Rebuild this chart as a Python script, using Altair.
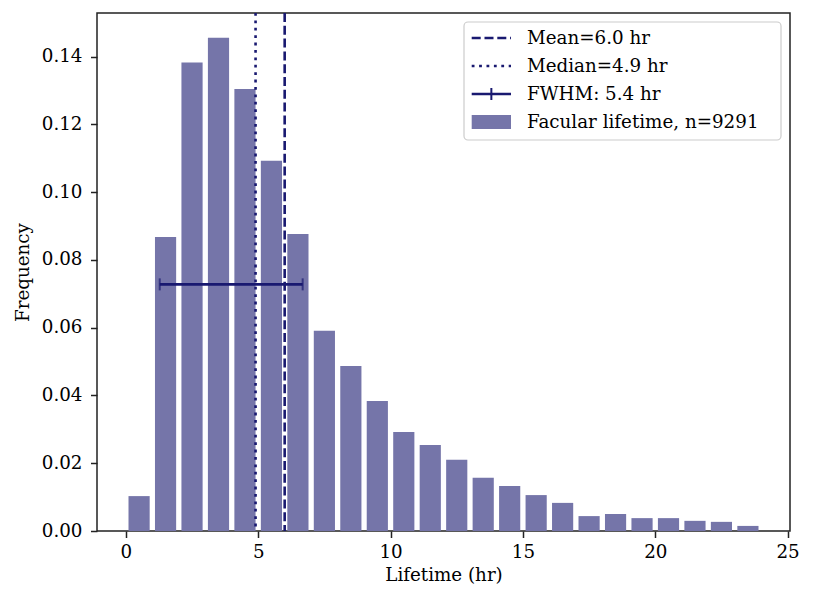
import altair as alt
import pandas as pd

# ---- data ----
bin_edges = list(range(0, 25))  # 24 one-hour bins, 0..24 hr
frequency = [0.0103, 0.0868, 0.1383, 0.1456, 0.1305, 0.1093, 0.0877, 0.0591,
             0.0487, 0.0384, 0.0292, 0.0254, 0.0210, 0.0157, 0.0133, 0.0106,
             0.0083, 0.0044, 0.0050, 0.0038, 0.0038, 0.0030, 0.0027, 0.0015]
mean_hr = 6.0
median_hr = 4.9
fwhm_left = 1.28
fwhm_right = 6.68
fwhm_y = 0.0728
legend_labels = ["Mean=6.0 hr", "Median=4.9 hr", "FWHM: 5.4 hr", "Facular lifetime, n=9291"]

NAVY = "#191970"
BAR = "#7575a9"
FONT = "DejaVu Serif"
FS = 18.3
W, H = 693, 518

rwidth = 0.8
bars = pd.DataFrame({
    "x0": [bin_edges[i] + (1 - rwidth) / 2 * (bin_edges[i + 1] - bin_edges[i]) for i in range(len(frequency))],
    "x1": [bin_edges[i + 1] - (1 - rwidth) / 2 * (bin_edges[i + 1] - bin_edges[i]) for i in range(len(frequency))],
    "f": frequency,
})

xscale = alt.Scale(domain=[-1.09, 25.09], nice=False, zero=False)
yscale = alt.Scale(domain=[0, 0.1529], nice=False, zero=False)

xaxis = alt.Axis(values=[0, 5, 10, 15, 20, 25], format="d", title="Lifetime (hr)", grid=False,
                 domain=False, tickSize=6.5, tickWidth=1.5, tickColor="#222", labelPadding=6,
                 labelFont=FONT, labelFontSize=FS, labelColor="#000", titleFont=FONT,
                 titleFontSize=FS, titleFontWeight="normal", titleColor="#000", titlePadding=6)
yaxis = alt.Axis(values=[0, 0.02, 0.04, 0.06, 0.08, 0.10, 0.12, 0.14], format=".2f", title="Frequency",
                 grid=False, domain=False, tickSize=6.5, tickWidth=1.5, tickColor="#222", labelPadding=8.5,
                 labelFont=FONT, labelFontSize=FS, labelColor="#000", titleFont=FONT,
                 titleFontSize=FS, titleFontWeight="normal", titleColor="#000", titlePadding=9)

bar_layer = alt.Chart(bars).mark_rect(color=BAR).encode(
    x=alt.X("x0:Q", scale=xscale, axis=xaxis),
    x2="x1:Q",
    y=alt.Y("f:Q", scale=yscale, axis=yaxis),
    y2=alt.datum(0),
)

one = pd.DataFrame({"mean": [mean_hr], "median": [median_hr], "l": [fwhm_left],
                    "r": [fwhm_right], "y": [fwhm_y]})

mean_layer = alt.Chart(one).mark_rule(color=NAVY, strokeWidth=2.6, strokeDash=[9, 3.8]).encode(
    x=alt.X("mean:Q", scale=xscale))
median_layer = alt.Chart(one).mark_rule(color=NAVY, strokeWidth=2.6, strokeDash=[2.8, 4.6]).encode(
    x=alt.X("median:Q", scale=xscale))
fwhm_line = alt.Chart(one).mark_rule(color=NAVY, strokeWidth=2.6).encode(
    x=alt.X("l:Q", scale=xscale), x2="r:Q", y=alt.Y("y:Q", scale=yscale))
caps = pd.DataFrame({"cx": [fwhm_left, fwhm_right], "cy": [fwhm_y, fwhm_y]})
fwhm_caps = alt.Chart(caps).mark_tick(color=NAVY, orient="vertical", size=12, thickness=2).encode(
    x=alt.X("cx:Q", scale=xscale), y=alt.Y("cy:Q", scale=yscale))

# ---- legend (drawn by hand) ----
lg = pd.DataFrame({"a": [0]})
LX0, LX1, TX = 374.7, 414, 430
rows = [25, 53, 81, 109]
legend_box = alt.Chart(lg).mark_rect(fill="white", fillOpacity=0.8, stroke="#cccccc", strokeWidth=1.2,
                                     cornerRadius=4).encode(
    x=alt.value(367), x2=alt.value(684), y=alt.value(9), y2=alt.value(127))
h_mean = alt.Chart(lg).mark_rule(color=NAVY, strokeWidth=2.6, strokeDash=[9, 3.8]).encode(
    x=alt.value(LX0), x2=alt.value(LX1), y=alt.value(rows[0]))
h_median = alt.Chart(lg).mark_rule(color=NAVY, strokeWidth=2.6, strokeDash=[2.8, 4.6]).encode(
    x=alt.value(LX0), x2=alt.value(LX1), y=alt.value(rows[1]))
h_fwhm = alt.Chart(lg).mark_rule(color=NAVY, strokeWidth=2.6).encode(
    x=alt.value(LX0), x2=alt.value(LX1), y=alt.value(rows[2]))
h_fwhm_cap = alt.Chart(lg).mark_rule(color=NAVY, strokeWidth=2).encode(
    x=alt.value((LX0 + LX1) / 2), y=alt.value(rows[2] - 6), y2=alt.value(rows[2] + 6))
h_patch = alt.Chart(lg).mark_rect(color=BAR).encode(
    x=alt.value(LX0), x2=alt.value(LX1), y=alt.value(rows[3] - 7), y2=alt.value(rows[3] + 7))
texts = [alt.Chart(lg).mark_text(text=lab, align="left", baseline="middle", font=FONT, fontSize=FS,
                                 color="#000").encode(x=alt.value(TX), y=alt.value(ry + 1))
         for lab, ry in zip(legend_labels, rows)]

chart = alt.layer(bar_layer, median_layer, mean_layer, fwhm_line, fwhm_caps,
                  legend_box, h_mean, h_median, h_fwhm, h_fwhm_cap, h_patch, *texts).properties(
    width=W, height=H,
    autosize=alt.AutoSizeParams(type="none"),
    padding={"left": 89, "top": 5, "right": 12, "bottom": 70},
    background="white",
).configure_view(stroke="#222", strokeWidth=1.5)

chart.save("out.html", embed_options={"renderer": "svg", "actions": False})
